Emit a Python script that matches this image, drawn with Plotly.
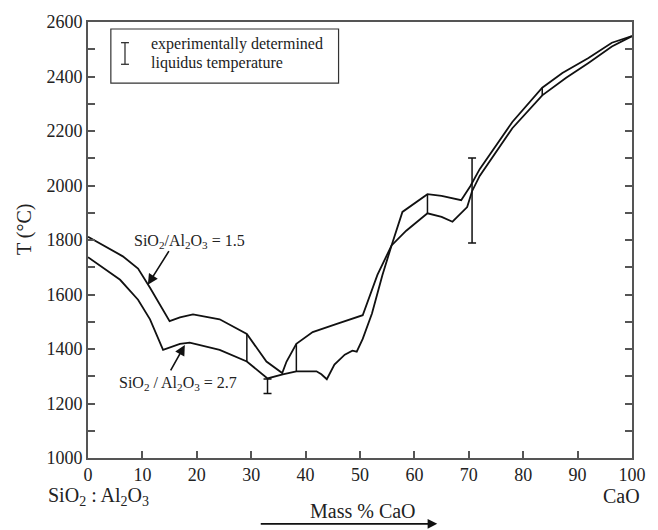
import plotly.graph_objects as go

# SiO2/Al2O3 = 1.5 liquidus curve
x_r15 = [0, 6.4, 9.2, 11.4, 15.0, 16.9, 19.3, 24.2, 29.2, 32.8, 35.7, 36.5, 38.3, 41.3, 45.6,
         50.5, 53.2, 55.8, 58.5, 62.4, 65.0, 67.0, 69.7, 70.6, 72.0, 75.0, 78.0, 83.5, 87.9,
         92.0, 96.3, 100]
t_r15 = [1812, 1740, 1695, 1625, 1502, 1516, 1527, 1509, 1455, 1354, 1312, 1354, 1419, 1462, 1491,
         1524, 1672, 1780, 1834, 1898, 1885, 1867, 1921, 1979, 2035, 2125, 2210, 2331, 2395,
         2450, 2510, 2548]

# SiO2/Al2O3 = 2.7 liquidus curve
x_r27 = [0, 5.9, 9.2, 11.4, 13.8, 16.9, 18.7, 24.2, 29.2, 33.0, 35.8, 38.3, 42.0, 42.9, 43.9,
         45.3, 47.2, 48.6, 49.4, 50.5, 52.2, 54.1, 55.8, 57.8, 62.4, 65.0, 68.6, 70.3, 72.0,
         75.0, 78.0, 83.5, 87.2, 92.0, 96.3, 100]
t_r27 = [1737, 1654, 1581, 1509, 1397, 1419, 1423, 1397, 1354, 1292, 1307, 1318, 1318, 1307, 1289,
         1343, 1379, 1394, 1390, 1437, 1530, 1670, 1780, 1903, 1968, 1962, 1946, 1998, 2060,
         2148, 2233, 2359, 2413, 2468, 2524, 2548]

# tie lines between the two curves
tie_x = [29.2, 38.3, 62.4, 83.5]
tie_lo = [1354, 1318, 1898, 2331]
tie_hi = [1455, 1419, 1968, 2359]

# experimentally determined liquidus temperatures (range)
err_x = [33.0, 70.6]
err_lo = [1237, 1789]
err_hi = [1290, 2101]

x_ticks = [0, 10, 20, 30, 40, 50, 60, 70, 80, 90, 100]
y_ticks = [1000, 1200, 1400, 1600, 1800, 2000, 2200, 2400, 2600]

SERIF = "Liberation Serif, Times New Roman, serif"
LINE = "#111111"
AX = "#555555"
TXT = "#222222"

fig = go.Figure()
fig.add_trace(go.Scatter(x=x_r15, y=t_r15, mode="lines",
                         line=dict(color=LINE, width=1.8), showlegend=False, hoverinfo="skip"))
fig.add_trace(go.Scatter(x=x_r27, y=t_r27, mode="lines",
                         line=dict(color=LINE, width=1.8), showlegend=False, hoverinfo="skip"))

tx, ty = [], []
for x, lo, hi in zip(tie_x, tie_lo, tie_hi):
    tx += [x, x, None]
    ty += [lo, hi, None]
fig.add_trace(go.Scatter(x=tx, y=ty, mode="lines", line=dict(color=LINE, width=1.5),
                         showlegend=False, hoverinfo="skip"))

fig.add_trace(go.Scatter(
    x=err_x, y=[(a + b) / 2 for a, b in zip(err_lo, err_hi)], mode="markers",
    marker=dict(size=1, color="rgba(0,0,0,0)"),
    error_y=dict(type="data", array=[(b - a) / 2 for a, b in zip(err_lo, err_hi)],
                 color=LINE, thickness=1.5, width=4),
    showlegend=False, hoverinfo="skip"))

# legend box
shapes = [
    dict(type="rect", xref="paper", yref="paper", x0=0.042, x1=0.4606, y0=0.860, y1=0.984,
         line=dict(color="#333333", width=1.2), fillcolor="white", layer="below"),
    dict(type="line", xref="paper", yref="paper", x0=0.068, x1=0.068, y0=0.903, y1=0.9526,
         line=dict(color="#333333", width=1.3)),
    dict(type="line", xref="paper", yref="paper", x0=0.0607, x1=0.0753, y0=0.9526, y1=0.9526,
         line=dict(color="#333333", width=1.3)),
    dict(type="line", xref="paper", yref="paper", x0=0.0607, x1=0.0753, y0=0.903, y1=0.903,
         line=dict(color="#333333", width=1.3)),
]

ann = [
    dict(text="experimentally determined", xref="paper", yref="paper", x=0.112, y=0.950,
         xanchor="left", yanchor="middle", showarrow=False, font=dict(family=SERIF, size=16, color=TXT)),
    dict(text="liquidus temperature", xref="paper", yref="paper", x=0.112, y=0.906,
         xanchor="left", yanchor="middle", showarrow=False, font=dict(family=SERIF, size=16, color=TXT)),
    dict(text="SiO<sub>2</sub>/Al<sub>2</sub>O<sub>3</sub> = 1.5", x=18.6, y=1795,
         xanchor="center", yanchor="middle", showarrow=False, font=dict(family=SERIF, size=16, color=TXT)),
    dict(text="", x=11.0, y=1636, ax=22, ay=-35, showarrow=True, arrowhead=2, arrowsize=1.3,
         arrowwidth=1.6, arrowcolor=LINE, standoff=0),
    dict(text="SiO<sub>2</sub> / Al<sub>2</sub>O<sub>3</sub> = 2.7", x=16.5, y=1272,
         xanchor="center", yanchor="middle", showarrow=False, font=dict(family=SERIF, size=16, color=TXT)),
    dict(text="", x=17.8, y=1415, ax=-15, ay=27, showarrow=True, arrowhead=2, arrowsize=1.3,
         arrowwidth=1.6, arrowcolor=LINE, standoff=0),
    dict(text="T (°C)", xref="paper", yref="paper", x=-0.117, y=0.526, textangle=-90,
         xanchor="center", yanchor="middle", showarrow=False, font=dict(family=SERIF, size=20, color=TXT)),
    dict(text="SiO<sub>2</sub> : Al<sub>2</sub>O<sub>3</sub>", xref="paper", yref="paper", x=0.02, y=-0.088,
         xanchor="center", yanchor="middle", showarrow=False, font=dict(family=SERIF, size=20, color=TXT)),
    dict(text="CaO", xref="paper", yref="paper", x=0.98, y=-0.088,
         xanchor="center", yanchor="middle", showarrow=False, font=dict(family=SERIF, size=20, color=TXT)),
    dict(text="Mass % CaO", xref="paper", yref="paper", x=0.506, y=-0.122,
         xanchor="center", yanchor="middle", showarrow=False, font=dict(family=SERIF, size=20, color=TXT)),
    dict(text="", xref="paper", yref="paper", axref="pixel", ayref="pixel", x=0.642, y=-0.151,
         ax=-178, ay=0, showarrow=True, arrowhead=2, arrowsize=1.2, arrowwidth=1.6,
         arrowcolor=LINE, standoff=0),
]

fig.update_layout(
    width=658, height=530,
    margin=dict(l=88, r=25, t=15, b=72),
    paper_bgcolor="white", plot_bgcolor="white",
    shapes=shapes, annotations=ann,
    font=dict(family=SERIF, size=18, color=TXT),
)
fig.update_xaxes(range=[0, 100], tickvals=x_ticks, ticks="inside", ticklen=7, tickwidth=1.5,
                 tickcolor=AX, showline=True, linecolor=AX, linewidth=1.6, mirror=True,
                 showgrid=False, zeroline=False, tickfont=dict(family=SERIF, size=18, color=TXT))
fig.update_yaxes(range=[1000, 2600], tickvals=y_ticks, ticks="inside", ticklen=7, tickwidth=1.5,
                 tickcolor=AX, showline=True, linecolor=AX, linewidth=1.6, mirror="ticks",
                 showgrid=False, zeroline=False, tickfont=dict(family=SERIF, size=18, color=TXT),
                 minor=dict(dtick=100, ticks="inside", ticklen=7, tickwidth=1.5, tickcolor=AX))

fig.write_html("out.html")
